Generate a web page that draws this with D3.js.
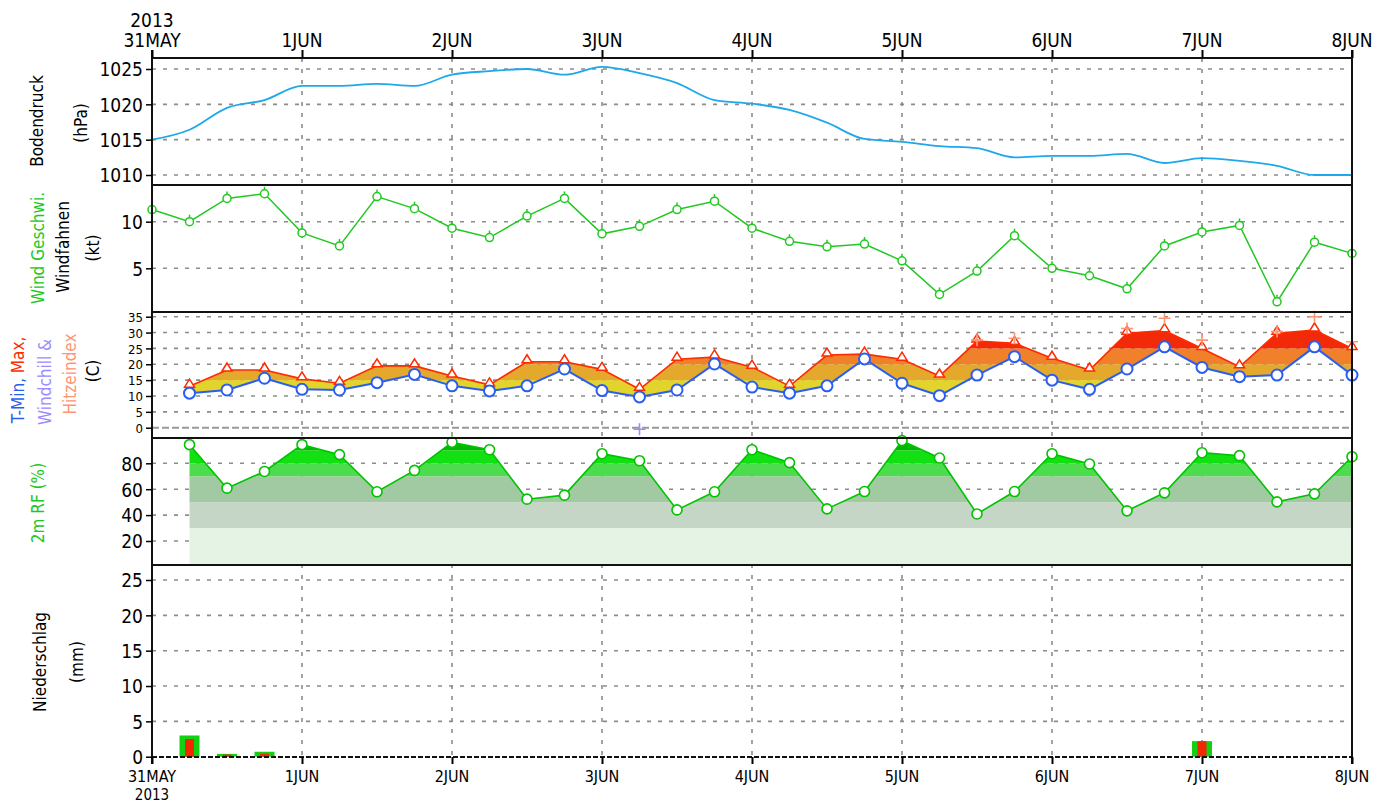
<!DOCTYPE html>
<html>
<head>
<meta charset="utf-8">
<script src="https://cdn.jsdelivr.net/npm/d3@7"></script>
<style>
  body { margin: 0; background: #fff; }
  svg { display: block; }
  text { font-family: "DejaVu Sans Condensed", "DejaVu Sans", sans-serif; font-size: 19px; fill: #000; }
  .lab { font-size: 17px; }
  .small text { font-size: 13px; }
</style>
</head>
<body>
<svg id="chart" width="1381" height="805"></svg>
<script>
"use strict";

// 6-hourly steps, hours after 31 May 2013 00Z
const hours = [0, 6, 12, 18, 24, 30, 36, 42, 48, 54, 60, 66, 72, 78, 84, 90, 96,
  102, 108, 114, 120, 126, 132, 138, 144, 150, 156, 162, 168, 174, 180, 186, 192];
const dayHours = [0, 24, 48, 72, 96, 120, 144, 168, 192];
const dayLabels = ["31MAY", "1JUN", "2JUN", "3JUN", "4JUN", "5JUN", "6JUN", "7JUN", "8JUN"];
const yearLabel = "2013";

const pressure = [1015.0, 1016.4, 1019.5, 1020.6, 1022.6, 1022.6, 1022.9, 1022.6, 1024.2, 1024.7, 1025.0,
  1024.2, 1025.3, 1024.4, 1023.0, 1020.6, 1020.1, 1019.2, 1017.4, 1015.1, 1014.7, 1014.1, 1013.8,
  1012.5, 1012.7, 1012.7, 1013.0, 1011.7, 1012.4, 1012.0, 1011.3, 1010.0, 1010.0];

const wind = [11.3, 10.0, 12.5, 13.0, 8.8, 7.4, 12.7, 11.4, 9.3, 8.3, 10.6, 12.5, 8.7, 9.5, 11.3, 12.2,
  9.3, 7.9, 7.3, 7.6, 5.8, 2.2, 4.7, 8.5, 5.0, 4.2, 2.8, 7.4, 8.9, 9.6, 1.4, 7.8, 6.6];

const tMin = [null, 10.9, 11.9, 15.6, 12.1, 11.9, 14.2, 16.8, 13.2, 11.6, 13.2, 18.5, 11.7, 9.7, 11.9, 20.1,
  12.8, 10.9, 13.2, 21.7, 14.0, 10.1, 16.6, 22.4, 15.0, 12.1, 18.5, 25.5, 19.0, 16.1, 16.6, 25.5, 16.6];
const tMax = [null, 13.1, 18.2, 18.2, 15.4, 14.0, 19.5, 19.5, 16.3, 13.5, 20.8, 20.8, 18.4, 12.1, 21.6, 22.3,
  19.1, 13.1, 22.9, 23.2, 21.6, 16.3, 27.3, 26.6, 21.9, 18.2, 29.8, 30.6, 25.0, 19.2, 29.8, 30.8, 25.0];
const heatIndex = [null, null, null, null, null, null, null, null, null, null, null, null, null, null, null, null,
  null, null, null, null, null, null, 27.6, 28.2, null, null, 31.3, 34.5, 27.6, null, 30.3, 35.0, 27.1];
const windChill = [null, null, null, null, null, null, null, null, null, null, null, null, null, -0.5, null, null,
  null, null, null, null, null, null, null, null, null, null, null, null, null, null, null, null, null];

const relHum = [null, 94.4, 60.8, 73.7, 94.4, 86.7, 58, 74.5, 96.2, 90.5, 52.3, 55.4, 87.4, 82, 44, 58,
  90.5, 80.5, 44.8, 58.2, 97.5, 84.1, 40.9, 58.2, 87.4, 79.5, 43.3, 57.2, 88.2, 85.9, 50.2, 56.4, 85.1];

const precipTotal = [0, 3.0, 0.4, 0.7, 0, 0, 0, 0, 0, 0, 0, 0, 0, 0, 0, 0,
  0, 0, 0, 0, 0, 0, 0, 0, 0, 0, 0, 0, 2.2, 0, 0, 0, 0];
const precipConv = [0, 2.5, 0.3, 0.4, 0, 0, 0, 0, 0, 0, 0, 0, 0, 0, 0, 0,
  0, 0, 0, 0, 0, 0, 0, 0, 0, 0, 0, 0, 2.2, 0, 0, 0, 0];

const pTicks = [1010, 1015, 1020, 1025];
const wTicks = [5, 10];
const tTicks = [0, 5, 10, 15, 20, 25, 30, 35];
const rTicks = [20, 40, 60, 80];
const qTicks = [0, 5, 10, 15, 20, 25];

const tBands = [[-10, 15, "#e2d42a"], [15, 20, "#e3a82c"], [20, 25, "#f0802a"], [25, 45, "#f22a08"]];
const rBands = [[0, 30, "#e5f3e5"], [30, 50, "#c6d6c6"], [50, 70, "#a2caa2"], [70, 80, "#4ddc4d"], [80, 90, "#12e012"], [90, 110, "#00b800"]];

const X0 = 152, X1 = 1352;
const x = d3.scaleLinear().domain([0, 192]).range([X0, X1]);

// panel boxes
const P = { top: 58, bot: 185 }, W = { top: 185, bot: 312 }, T = { top: 312, bot: 438 },
      R = { top: 438, bot: 565 }, Q = { top: 565, bot: 757 };

const pY = d3.scaleLinear().domain([1010, 1025]).range([175, 69]);
const wY = d3.scaleLinear().domain([5, 10]).range([268.3, 221.7]);
const tY = d3.scaleLinear().domain([0, 35]).range([427.7, 316.7]);
const rY = d3.scaleLinear().domain([20, 80]).range([541, 463.3]);
const qY = d3.scaleLinear().domain([0, 25]).range([756.7, 580]);

const svg = d3.select("#chart");
const defs = svg.append("defs");
const grid = svg.append("g");
const marks = svg.append("g");
const frame = svg.append("g");

const GRID = "#8c8c8c";

function hGrid(scale, ticks) {
  ticks.forEach(function(t) {
    grid.append("line")
      .attr("x1", X0).attr("x2", X1)
      .attr("y1", scale(t)).attr("y2", scale(t))
      .attr("stroke", GRID).attr("stroke-width", 1.6)
      .attr("stroke-dasharray", "4,7");
  });
}

function yAxis(scale, ticks, cls) {
  const ax = d3.axisLeft(scale).tickValues(ticks).tickSize(6).tickPadding(3).tickFormat(d3.format("d"));
  const g = frame.append("g").attr("class", cls || null).attr("transform", "translate(" + X0 + ",0)").call(ax);
  g.select(".domain").remove();
  g.selectAll("line").attr("stroke", "#000").attr("stroke-width", 1.5);
  g.selectAll("text").attr("font-size", null).attr("font-family", null).attr("dy", "0.36em");
}

// vertical day grid
dayHours.slice(1, -1).forEach(function(h) {
  grid.append("line")
    .attr("x1", x(h)).attr("x2", x(h))
    .attr("y1", P.top).attr("y2", Q.bot)
    .attr("stroke", GRID).attr("stroke-width", 1.6)
    .attr("stroke-dasharray", "4,7");
});

hGrid(pY, pTicks);
hGrid(wY, wTicks);
hGrid(tY, tTicks.filter(function(t) { return t > 0; }));
hGrid(rY, rTicks);
hGrid(qY, qTicks.filter(function(t) { return t > 0; }));

// zero line in temperature panel
grid.append("line")
  .attr("x1", X0).attr("x2", X1).attr("y1", tY(0)).attr("y2", tY(0))
  .attr("stroke", "#999").attr("stroke-width", 2).attr("stroke-dasharray", "7,3");

// ---- pressure
const idx = d3.range(hours.length);
marks.append("path")
  .datum(idx)
  .attr("fill", "none").attr("stroke", "#1ea8ea").attr("stroke-width", 1.8)
  .attr("d", d3.line().x(function(i) { return x(hours[i]); }).y(function(i) { return pY(pressure[i]); }).curve(d3.curveMonotoneX));

// ---- wind
marks.append("path")
  .datum(idx)
  .attr("fill", "none").attr("stroke", "#22c822").attr("stroke-width", 1.5)
  .attr("d", d3.line().x(function(i) { return x(hours[i]); }).y(function(i) { return wY(wind[i]); }));
const wm = marks.append("g").selectAll("g").data(idx).enter().append("g")
  .attr("transform", function(i) { return "translate(" + x(hours[i]) + "," + wY(wind[i]) + ")"; });
wm.append("circle").attr("r", 4).attr("fill", "#fff").attr("stroke", "#22c822").attr("stroke-width", 1.5);
wm.append("line").attr("x1", 0).attr("y1", -4).attr("x2", 0).attr("y2", -7).attr("stroke", "#22c822").attr("stroke-width", 1.5);

// ---- temperature
const tIdx = idx.filter(function(i) { return tMin[i] != null; });
defs.append("clipPath").attr("id", "tclip").append("path")
  .datum(tIdx)
  .attr("d", d3.area().x(function(i) { return x(hours[i]); })
    .y0(function(i) { return tY(tMin[i]); }).y1(function(i) { return tY(tMax[i]); }));
const tb = marks.append("g").attr("clip-path", "url(#tclip)");
tBands.forEach(function(b) {
  tb.append("rect").attr("x", X0).attr("width", X1 - X0)
    .attr("y", tY(b[1])).attr("height", tY(b[0]) - tY(b[1])).attr("fill", b[2]);
});
marks.append("path").datum(tIdx)
  .attr("fill", "none").attr("stroke", "#ff2a00").attr("stroke-width", 1.6)
  .attr("d", d3.line().x(function(i) { return x(hours[i]); }).y(function(i) { return tY(tMax[i]); }));
marks.append("path").datum(tIdx)
  .attr("fill", "none").attr("stroke", "#2a5ef0").attr("stroke-width", 2)
  .attr("d", d3.line().x(function(i) { return x(hours[i]); }).y(function(i) { return tY(tMin[i]); }));

marks.append("g").selectAll("path").data(tIdx).enter().append("path")
  .attr("transform", function(i) { return "translate(" + x(hours[i]) + "," + (tY(tMax[i]) - 2) + ")"; })
  .attr("d", "M0,-5L5,3L-5,3Z")
  .attr("fill", "#fff").attr("stroke", "#ff2a00").attr("stroke-width", 1.5);
marks.append("g").selectAll("circle").data(tIdx).enter().append("circle")
  .attr("cx", function(i) { return x(hours[i]); }).attr("cy", function(i) { return tY(tMin[i]); })
  .attr("r", 5.5).attr("fill", "#fff").attr("stroke", "#2a5ef0").attr("stroke-width", 2);

function plusMarks(arr, color) {
  marks.append("g").selectAll("path").data(idx.filter(function(i) { return arr[i] != null; })).enter().append("path")
    .attr("transform", function(i) { return "translate(" + x(hours[i]) + "," + tY(arr[i]) + ")"; })
    .attr("d", "M-6,0H6M0,-6V6")
    .attr("stroke", color).attr("stroke-width", 1.6).attr("fill", "none");
}
plusMarks(heatIndex, "#ff9472");
plusMarks(windChill, "#9a8cff");

// ---- relative humidity
const rIdx = idx.filter(function(i) { return relHum[i] != null; });
defs.append("clipPath").attr("id", "rclip").append("path")
  .datum(rIdx)
  .attr("d", d3.area().x(function(i) { return x(hours[i]); })
    .y0(R.bot).y1(function(i) { return rY(relHum[i]); }));
const rb = marks.append("g").attr("clip-path", "url(#rclip)");
rBands.forEach(function(b) {
  rb.append("rect").attr("x", X0).attr("width", X1 - X0)
    .attr("y", rY(b[1])).attr("height", rY(b[0]) - rY(b[1])).attr("fill", b[2]);
});
marks.append("path").datum(rIdx)
  .attr("fill", "none").attr("stroke", "#00c400").attr("stroke-width", 1.6)
  .attr("d", d3.line().x(function(i) { return x(hours[i]); }).y(function(i) { return rY(relHum[i]); }));
marks.append("g").selectAll("circle").data(rIdx).enter().append("circle")
  .attr("cx", function(i) { return x(hours[i]); }).attr("cy", function(i) { return rY(relHum[i]); })
  .attr("r", 5).attr("fill", "#fff").attr("stroke", "#00c400").attr("stroke-width", 1.6);

// ---- precipitation
const qIdx = idx.filter(function(i) { return precipTotal[i] > 0; });
marks.append("g").selectAll("rect").data(qIdx).enter().append("rect")
  .attr("x", function(i) { return x(hours[i]) - 10; }).attr("width", 20)
  .attr("y", function(i) { return qY(precipTotal[i]); })
  .attr("height", function(i) { return qY(0) - qY(precipTotal[i]); })
  .attr("fill", "#12d012");
marks.append("g").selectAll("rect").data(qIdx).enter().append("rect")
  .attr("x", function(i) { return x(hours[i]) - 4.5; }).attr("width", 9)
  .attr("y", function(i) { return qY(precipConv[i]); })
  .attr("height", function(i) { return qY(0) - qY(precipConv[i]); })
  .attr("fill", "#f42800");

// ---- frame
[P.top, W.top, T.top, R.top, Q.top].forEach(function(y) {
  frame.append("line").attr("x1", X0).attr("x2", X1).attr("y1", y).attr("y2", y)
    .attr("stroke", "#111").attr("stroke-width", 2);
});
frame.append("line").attr("x1", X0).attr("x2", X1).attr("y1", Q.bot).attr("y2", Q.bot)
  .attr("stroke", "#111").attr("stroke-width", 1.8).attr("stroke-dasharray", "5,2");
frame.append("line").attr("x1", X0).attr("x2", X0).attr("y1", 50).attr("y2", 764)
  .attr("stroke", "#111").attr("stroke-width", 2);
frame.append("line").attr("x1", X1).attr("x2", X1).attr("y1", 50).attr("y2", 764)
  .attr("stroke", "#111").attr("stroke-width", 2);

// day ticks top and bottom
const topAx = d3.axisTop(x).tickValues(dayHours).tickSize(8).tickFormat("");
frame.append("g").attr("transform", "translate(0," + P.top + ")").call(topAx)
  .call(function(g) { g.select(".domain").remove(); g.selectAll("line").attr("stroke", "#000").attr("stroke-width", 2); });
const botAx = d3.axisBottom(x).tickValues(dayHours).tickSize(7).tickFormat("");
frame.append("g").attr("transform", "translate(0," + Q.bot + ")").call(botAx)
  .call(function(g) { g.select(".domain").remove(); g.selectAll("line").attr("stroke", "#000").attr("stroke-width", 2); });

dayHours.forEach(function(h, k) {
  frame.append("text").attr("x", x(h)).attr("y", 47).attr("text-anchor", "middle").text(dayLabels[k]);
  frame.append("text").attr("x", x(h)).attr("y", 782).attr("text-anchor", "middle")
    .style("font-size", "16px").text(dayLabels[k]);
});
frame.append("text").attr("x", x(0)).attr("y", 27).attr("text-anchor", "middle").text(yearLabel);
frame.append("text").attr("x", x(0)).attr("y", 800).attr("text-anchor", "middle")
  .style("font-size", "15px").text(yearLabel);

yAxis(pY, pTicks);
yAxis(wY, wTicks);
yAxis(tY, tTicks, "small");
yAxis(rY, rTicks);
yAxis(qY, qTicks);

// rotated axis titles
function vlabel(cx, cy, parts) {
  const t = frame.append("text").attr("class", "lab")
    .attr("transform", "translate(" + cx + "," + cy + ") rotate(-90)")
    .attr("text-anchor", "middle").attr("dy", "0.35em");
  parts.forEach(function(p) { t.append("tspan").style("fill", p[1]).text(p[0]); });
}
vlabel(37, 121, [["Bodendruck", "#000"]]);
vlabel(81, 123, [["(hPa)", "#000"]]);
vlabel(38, 248, [["Wind Geschwi.", "#22c822"]]);
vlabel(63, 247, [["Windfahnen", "#000"]]);
vlabel(93, 248, [["(kt)", "#000"]]);
vlabel(18, 380, [["T-Min, ", "#2a5ef0"], ["Max,", "#ff2a00"]]);
vlabel(45, 382, [["Windchill &", "#9a8cff"]]);
vlabel(70, 374, [["Hitzeindex", "#ff9472"]]);
vlabel(93, 371, [["(C)", "#000"]]);
vlabel(38, 503, [["2m RF (%)", "#22c822"]]);
vlabel(40, 662, [["Niederschlag", "#000"]]);
vlabel(77, 662, [["(mm)", "#000"]]);
</script>
</body>
</html>
